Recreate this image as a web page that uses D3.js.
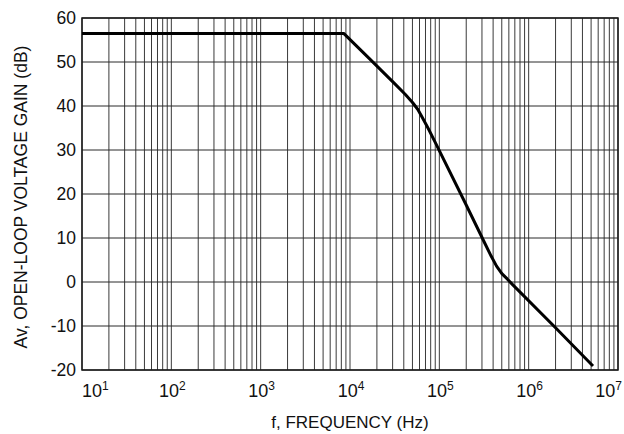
<!DOCTYPE html>
<html>
<head>
<meta charset="utf-8">
<script src="https://cdn.jsdelivr.net/npm/d3@7"></script>
<style>
  html, body { margin: 0; padding: 0; background: #fff; }
  svg { display: block; }
  text { font-family: "Liberation Sans", Arial, Helvetica, sans-serif; fill: #111; }
</style>
</head>
<body>
<svg id="chart" width="624" height="434"></svg>
<script>
// ---- data ----
const frequencyHz = [10, 8500, 16600, 31600, 41700, 50100, 57500, 66100, 75900, 89100,
                     200000, 316000, 380000, 437000, 501000, 575000, 661000, 2000000, 5250000];
const gainDb      = [56.5, 56.5, 50.7, 45.1, 42.6, 40.8, 39.2, 37.0, 34.7, 31.9,
                     17.5, 9.2, 5.9, 3.6, 1.9, 0.7, -0.6, -10.4, -19.1];
const yTickValues = [60, 50, 40, 30, 20, 10, 0, -10, -20];
const yTickLabels = ["60", "50", "40", "30", "20", "10", "0", "-10", "-20"];
const xDecades    = [1, 2, 3, 4, 5, 6, 7];
const xTitle = "f, FREQUENCY (Hz)";
const yTitle = "Av, OPEN-LOOP VOLTAGE GAIN (dB)";

// ---- layout ----
const svg = d3.select("#chart");
const pLeft = 82, pRight = 618, pTop = 18, pBottom = 370;

const x = d3.scaleLog().domain([10, 1e7]).range([pLeft, pRight]);
const y = d3.scaleLinear().domain([-20, 60]).range([pBottom, pTop]);

// vertical grid lines: 1..9 x 10^k
const gridX = [];
for (let k = 1; k < 7; k++) {
  for (let m = 1; m <= 9; m++) gridX.push(m * Math.pow(10, k));
}
gridX.push(1e7);

const grid = svg.append("g");
grid.selectAll("line.v").data(gridX).enter().append("line")
  .attr("x1", d => x(d)).attr("x2", d => x(d))
  .attr("y1", pTop).attr("y2", pBottom)
  .attr("stroke", "#3a3a3a").attr("stroke-width", 1);

grid.selectAll("line.h").data(yTickValues).enter().append("line")
  .attr("x1", pLeft).attr("x2", pRight)
  .attr("y1", d => y(d)).attr("y2", d => y(d))
  .attr("stroke", "#2a2a2a").attr("stroke-width", 1);

// frame
svg.append("rect")
  .attr("x", pLeft).attr("y", pTop)
  .attr("width", pRight - pLeft).attr("height", pBottom - pTop)
  .attr("fill", "none").attr("stroke", "#1a1a1a").attr("stroke-width", 1.5);

// curve
const pts = frequencyHz.map((f, i) => [f, gainDb[i]]);
const line = d3.line()
  .x(d => x(d[0])).y(d => y(d[1]))
  .curve(d3.curveLinear);
svg.append("path").datum(pts)
  .attr("d", line)
  .attr("fill", "none").attr("stroke", "#000")
  .attr("stroke-width", 3).attr("stroke-linejoin", "round");

// y tick labels
svg.append("g").selectAll("text").data(yTickValues).enter().append("text")
  .attr("x", 76).attr("y", d => y(d) + 6)
  .attr("text-anchor", "end")
  .attr("font-size", 17.5)
  .text((d, i) => yTickLabels[i]);

// x tick labels 10^k
const xt = svg.append("g").selectAll("text").data(xDecades).enter().append("text")
  .attr("x", d => d === 1 ? x(10) : d === 7 ? x(1e7) + 4 : x(Math.pow(10, d)) + 1)
  .attr("y", 397)
  .attr("text-anchor", d => d === 1 ? "start" : d === 7 ? "end" : "middle")
  .attr("font-size", 18);
xt.append("tspan").text("10");
xt.append("tspan").attr("font-size", 12).attr("dy", -7).text(d => d);

// axis titles
svg.append("text")
  .attr("x", (pLeft + pRight) / 2).attr("y", 428)
  .attr("text-anchor", "middle")
  .attr("font-size", 17)
  .text(xTitle);

svg.append("text")
  .attr("transform", "translate(27,197) rotate(-90)")
  .attr("text-anchor", "middle")
  .attr("font-size", 17.5)
  .text(yTitle);
</script>
</body>
</html>
